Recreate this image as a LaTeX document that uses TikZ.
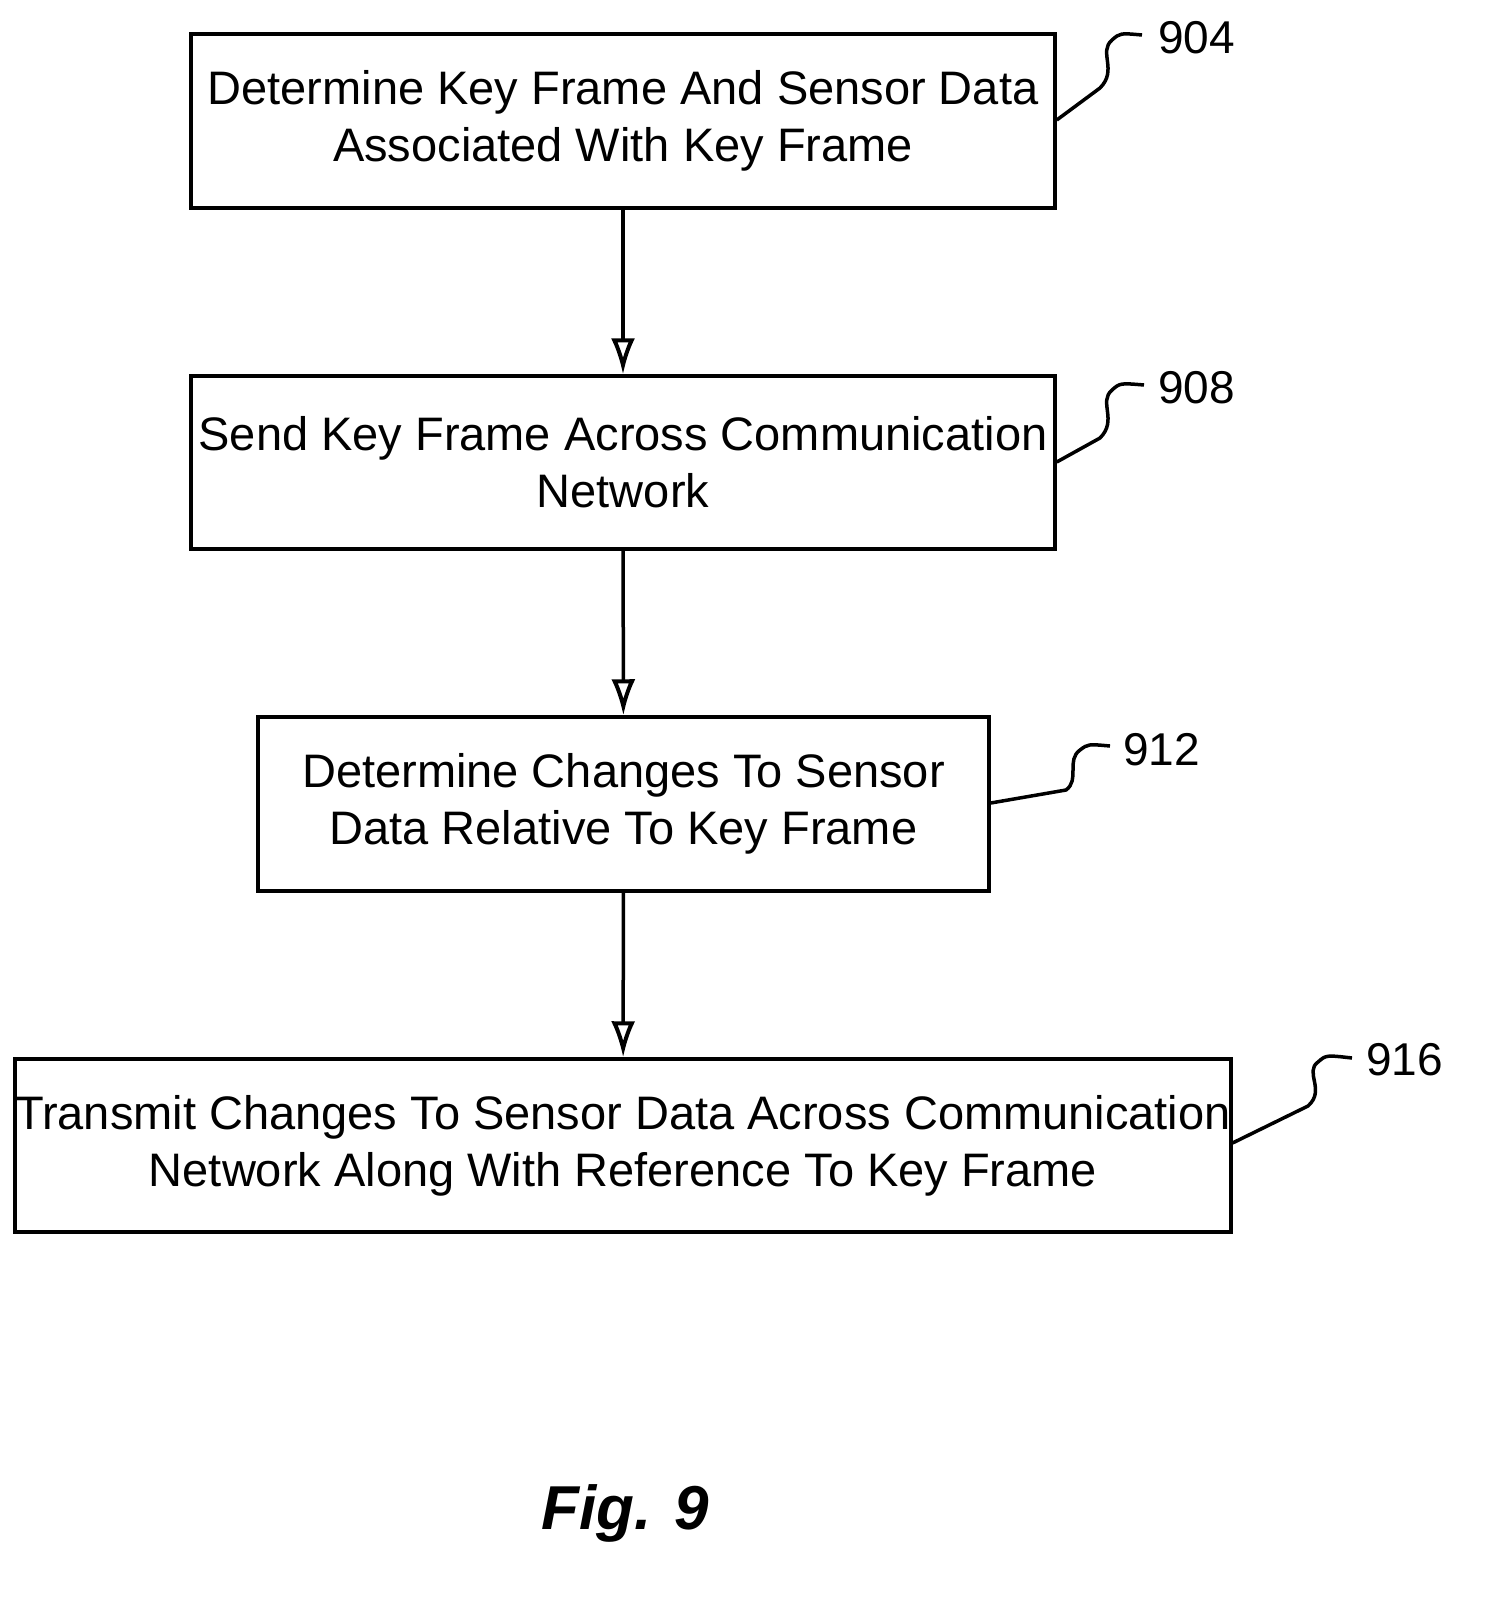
\documentclass[tikz,border=0pt]{standalone}
\usepackage{fontspec}
\setmainfont{Liberation Sans}
\usetikzlibrary{arrows.meta}
\begin{document}
\begin{tikzpicture}[x=1pt,y=-1pt,
  box/.style={draw,line width=3.5pt,align=center,inner sep=0pt,font=\fontsize{47}{57}\selectfont},
  arr/.style={line width=3.5pt,-{Latex[length=36pt,width=24pt,open,line width=4pt]}},
  lead/.style={line width=3.5pt},
  lab/.style={font=\fontsize{46}{50}\selectfont,anchor=west,inner sep=0pt}]
\useasboundingbox (0,0) rectangle (1489,1598);
\node[box,minimum width=864pt,minimum height=174pt] (b904) at (623,121) {Determine Key Frame And Sensor Data\\Associated With Key Frame};
\node[box,minimum width=864pt,minimum height=173pt] (b908) at (623,462.5) {Send Key Frame Across Communication\\Network};
\node[box,minimum width=731pt,minimum height=174pt] (b912) at (623.5,804) {Determine Changes To Sensor\\Data Relative To Key Frame};
\node[box,minimum width=1202pt,minimum height=173pt] (b916) at (623,1145.5) {Transmit Changes To Sensor Data Across Communication\\Network Along With Reference To Key Frame};
\draw[arr] (b904) -- (b908);
\draw[arr] (b908) -- (b912);
\draw[arr] (b912) -- (b916);
\node[lab] (l904) at (1158,38) {904};
\node[lab] (l908) at (1158,388) {908};
\node[lab] (l912) at (1123,750) {912};
\node[lab] (l916) at (1366,1060) {916};
\coordinate (c904) at (b904.east |- 0,120);
\draw[lead] (c904) -- (1100,88) .. controls (1118,70) and (1098,52) .. (1112,40) .. controls (1120,33) .. (1142,35);
\coordinate (c908) at (b908.east |- 0,462);
\draw[lead] (c908) -- (1100,438) .. controls (1118,420) and (1098,402) .. (1112,390) .. controls (1120,383) .. (1144,385);
\coordinate (c912) at (b912.east |- 0,803);
\draw[lead] (c912) -- (1066,790) .. controls (1080,780) and (1066,760) .. (1080,750) .. controls (1088,744) .. (1110,746);
\coordinate (c916) at (b916.east |- 0,1143);
\draw[lead] (c916) -- (1308,1106) .. controls (1326,1090) and (1304,1072) .. (1318,1062) .. controls (1326,1055) .. (1352,1058);
\node[font=\fontsize{62}{70}\selectfont\bfseries\itshape] (fig) at (625,1513) {Fig. 9};
\end{tikzpicture}
\end{document}
